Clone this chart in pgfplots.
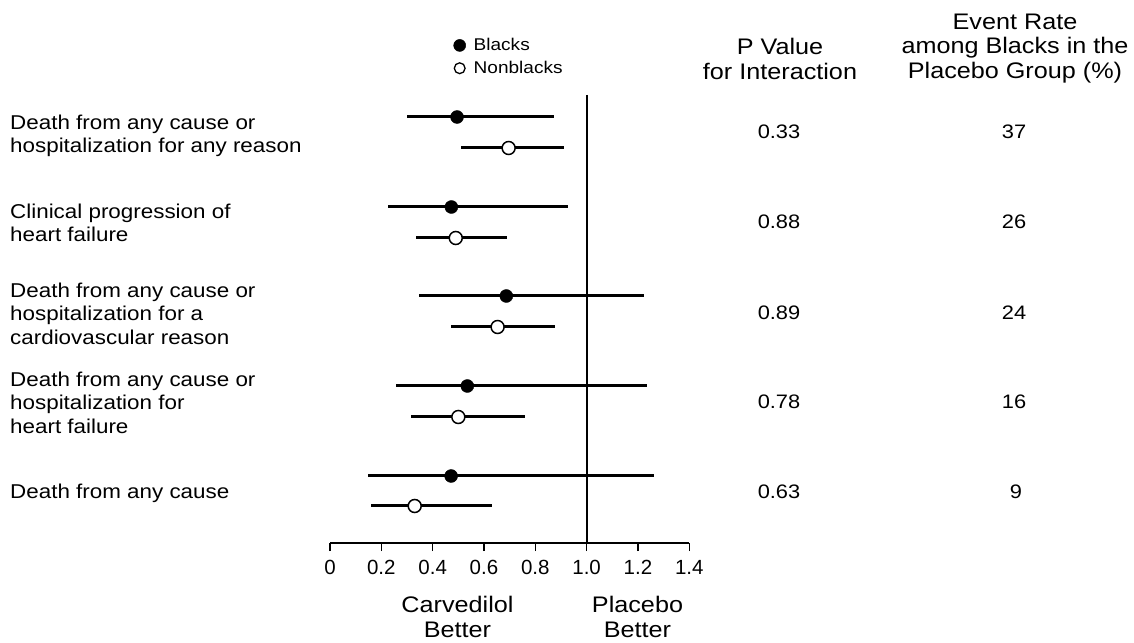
\documentclass[border=0pt]{standalone}
\usepackage{fontspec}
\setmainfont{Liberation Sans}[FakeStretch=1.12]
\newfontfamily\plainsans{Liberation Sans}
\usepackage{pgfplots}
\usepackage{pgfplotstable}
\pgfplotsset{compat=1.18}

\pgfplotstableread{
y est lo hi
-117 0.495 0.301 0.872
-207 0.473 0.225 0.928
-296 0.687 0.348 1.225
-386 0.535 0.256 1.237
-476 0.472 0.149 1.264
}\blacks
\pgfplotstableread{
y est lo hi
-148 0.696 0.511 0.912
-238 0.490 0.334 0.689
-327 0.653 0.473 0.876
-417 0.500 0.317 0.761
-506 0.330 0.160 0.631
}\nonblacks

\newcommand{\bigf}{\fontsize{20}{23.5}\selectfont}
\newcommand{\headf}{\fontsize{22.5}{24.5}\selectfont}
\newcommand{\numf}{\fontsize{19.5}{23}\selectfont}

\begin{document}
\begin{tikzpicture}
\begin{axis}[
  at={(330pt,99pt)}, anchor=south west,
  scale only axis, width=359.3pt, height=448pt,
  xmin=0, xmax=1.4, ymin=-543, ymax=-95,
  axis x line=bottom, axis y line=none,
  axis line style={-, line width=1.6pt, black},
  xtick={0,0.2,0.4,0.6,0.8,1.0,1.2,1.4},
  xticklabels={0,0.2,0.4,0.6,0.8,1.0,1.2,1.4},
  tick align=outside, major tick length=8pt,
  tick style={line width=1.5pt, black},
  xticklabel style={font=\plainsans\fontsize{20.5}{24}\selectfont, yshift=-6pt},
  clip=false,
  legend style={at={(axis description cs:0.343,1.131)}, anchor=north west,
    draw=none, fill=none, font=\fontsize{17}{20}\selectfont,
    inner sep=0pt, row sep=5pt, cells={anchor=west}},
  legend cell align=left,
]
\addplot[black, line width=2pt, forget plot] coordinates {(1,-95) (1,-543)};
\addplot[only marks, mark=*, mark size=6.5pt, mark options={fill=black, draw=black},
  legend image code/.code={\path[draw=none] (0pt,0pt) -- (18pt,0pt); \draw[black, fill=black, line width=0.5pt] (6pt,0pt) circle (6pt);},
  error bars/.cd, x dir=both, x explicit, error mark=none,
  error bar style={line width=3pt, black}]
  table[x=est, y=y, x error plus expr=\thisrow{hi}-\thisrow{est}, x error minus expr=\thisrow{est}-\thisrow{lo}] {\blacks};
\addplot[only marks, mark=*, mark size=6.5pt, mark options={fill=white, draw=black, line width=1.5pt},
  legend image code/.code={\path[draw=none] (0pt,0pt) -- (18pt,0pt); \draw[black, fill=white, line width=1.3pt] (6pt,0pt) circle (5.4pt);},
  error bars/.cd, x dir=both, x explicit, error mark=none,
  error bar style={line width=3pt, black}]
  table[x=est, y=y, x error plus expr=\thisrow{hi}-\thisrow{est}, x error minus expr=\thisrow{est}-\thisrow{lo}] {\nonblacks};
\legend{Blacks,Nonblacks}
\end{axis}

\begin{scope}[x=1pt, y=-1pt, shift={(0pt,642pt)}]
\useasboundingbox (0,0) rectangle (1134,642);
\tikzset{lab/.style={inner sep=0pt, font=\bigf}}
% row labels
\node[lab, anchor=west, align=left] at (10,136) {Death from any cause or\\hospitalization for any reason};
\node[lab, anchor=west, align=left] at (10,223) {Clinical progression of\\heart failure};
\node[lab, anchor=west, align=left] at (10,313.5) {Death from any cause or\\hospitalization for a\\cardiovascular reason};
\node[lab, anchor=west, align=left] at (10,402.5) {Death from any cause or\\hospitalization for\\heart failure};
\node[lab, anchor=west, align=left] at (10,493) {Death from any cause};
% headers
\node[lab, font=\headf, align=center] at (780,59) {P Value\\for Interaction};
\node[lab, font=\headf, align=center] at (1015,48.5) {Event Rate\\among Blacks in the\\Placebo Group (\%)};
% p values
\node[lab, font=\numf] at (779,132) {0.33};
\node[lab, font=\numf] at (779,222) {0.88};
\node[lab, font=\numf] at (779,313) {0.89};
\node[lab, font=\numf] at (779,402) {0.78};
\node[lab, font=\numf] at (779,492) {0.63};
% event rates
\node[lab, font=\numf] at (1014,132) {37};
\node[lab, font=\numf] at (1014,222) {26};
\node[lab, font=\numf] at (1014,313) {24};
\node[lab, font=\numf] at (1014,402) {16};
\node[lab, font=\numf] at (1016,492) {9};
% bottom labels
\node[lab, font=\headf, align=center] at (457.5,617) {Carvedilol\\Better};
\node[lab, font=\headf, align=center] at (637.5,617) {Placebo\\Better};
\end{scope}
\end{tikzpicture}
\end{document}
